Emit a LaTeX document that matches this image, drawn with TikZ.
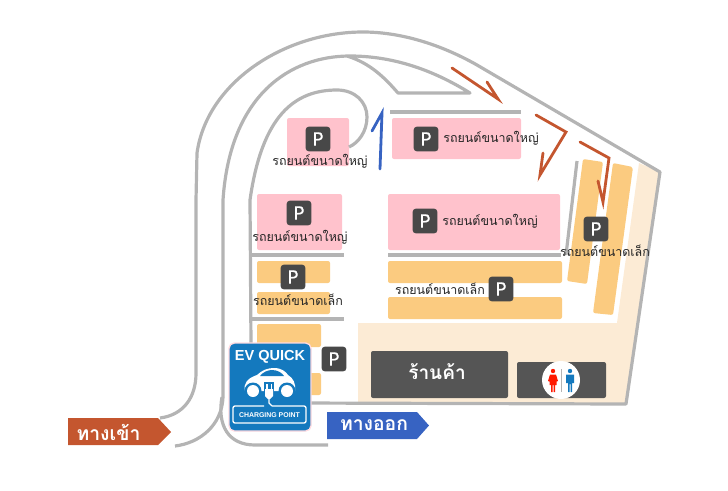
\documentclass[tikz,border=0pt]{standalone}
\usepackage{fontspec}
\setmainfont{Noto Sans}
\newfontfamily\pfont[FakeBold=0.5]{Noto Sans}
\newfontfamily\thaifont[Script=Thai]{Loma}
\newfontfamily\evfont{Liberation Sans}
\definecolor{roadgrey}{HTML}{B4B4B4}
\definecolor{pinkzone}{HTML}{FFC2CC}
\definecolor{orangezone}{HTML}{FBCB80}
\definecolor{creamzone}{HTML}{FCEBD5}
\definecolor{darkbox}{HTML}{484848}
\definecolor{shopbox}{HTML}{555555}
\definecolor{redarrow}{HTML}{C4562F}
\definecolor{bluearrow}{HTML}{3763C2}
\definecolor{evblue}{HTML}{1479BE}
\tikzset{
  road/.style={draw=roadgrey,line width=2.4pt,line join=round,fill=none},
  pinkbox/.style={fill=pinkzone,rounded corners=1.5pt,draw=none},
  orangebox/.style={fill=orangezone,rounded corners=1.5pt,draw=none},
  pbox/.style={fill=darkbox,rounded corners=2.5pt,minimum size=18.6pt,inner sep=0pt,text=white,font=\pfont\fontsize{14}{15}\selectfont},
  zonelabel/.style={font=\thaifont\fontsize{9.35}{11}\selectfont,text=black!85,inner sep=0pt},
  handarrow/.style={line width=2.1pt,line cap=round,line join=miter,fill=none},
  bannertext/.style={font=\thaifont\bfseries\fontsize{14.5}{16}\selectfont,text=white,inner sep=0pt},
}
\begin{document}
\begin{tikzpicture}[x=0.75pt,y=-0.75pt]
\useasboundingbox (0,0) rectangle (728,490);
% cream zone
\fill[creamzone] (639,163) -- (660,172) -- (626,404) -- (358,403) -- (358,323) -- (617,323) -- cycle;
% parking zones
\path[pinkbox] (287,118) rectangle (349,166);
\path[pinkbox] (392,118) rectangle (521,159);
\path[pinkbox] (388,194) rectangle (560,250);
\path[pinkbox] (257,194) rectangle (342,250);
\path[orangebox] (257,261) rectangle (330,283);
\path[orangebox] (257,292) rectangle (330,314);
\path[orangebox] (257,324) rectangle (321,347);
\path[orangebox] (257,373) rectangle (321,395);
\path[orangebox] (388,261) rectangle (562,283);
\path[orangebox] (388,297) rectangle (562,319);
\path[orangebox] (583,159) -- (603,162) -- (587,284) -- (567,281) -- cycle;
\path[orangebox] (613,163) -- (633,167) -- (613,315) -- (593,313) -- cycle;
% roads
\draw[road] (160,418) .. controls (183,415) and (196,398) .. (196,373) -- (196,200) -- (197,153)
  .. controls (207,82) and (285,32) .. (363,32) .. controls (400,32) and (440,44) .. (477,65)
  -- (660,172) -- (626,404) -- (300,403);
\draw[road] (223,397) -- (223,200) .. controls (230,95) and (290,56) .. (350,56)
  .. controls (390,56) and (430,68) .. (470,93) -- (398,93) .. controls (385,78) and (370,63) .. (347,56);
\draw[road] (223,397) .. controls (222,425) and (200,443) .. (175,446);
\draw[road] (222,397) .. controls (217,425) and (228,445) .. (255,445) -- (328,445);
\draw[road] (251,345) -- (250,200) .. controls (262,115) and (295,90) .. (337,90)
  .. controls (355,90) and (367,102) .. (367,117) .. controls (367,132) and (358,143) .. (349,147);
\draw[road] (390,112) -- (521,112);
\draw[road] (388,255) -- (561,255);
\draw[road] (251,255) -- (344,255);
\draw[road] (251,319) -- (344,319);
\draw[road] (577,161) -- (566,255);
% hand drawn arrows
\draw[handarrow,bluearrow] (380,169) -- (382,113) -- (372,131);
\draw[handarrow,redarrow] (452,68) -- (498,99) -- (487,82);
\draw[handarrow,redarrow] (536,115) -- (566,132) -- (540,175) -- (543,153);
\draw[handarrow,redarrow] (580,142) -- (609,158) -- (603,202) -- (598,181);
% P markers
\node[pbox] (p1) at (318,139) {P};
\node[pbox] (p2) at (426,139) {P};
\node[pbox] (p3) at (425,221) {P};
\node[pbox] (p4) at (596,229) {P};
\node[pbox] (p5) at (299,213) {P};
\node[pbox] (p6) at (293,277) {P};
\node[pbox] (p7) at (501,289) {P};
\node[pbox] (p8) at (334,359) {P};
% labels
\node[zonelabel] (l1) at (320,161) {รถยนต์ขนาดใหญ่};
\node[zonelabel] (l2) at (491,138) {รถยนต์ขนาดใหญ่};
\node[zonelabel] (l3) at (490,221) {รถยนต์ขนาดใหญ่};
\node[zonelabel] (l4) at (300,237) {รถยนต์ขนาดใหญ่};
\node[zonelabel] (l5) at (298,300) {รถยนต์ขนาดเล็ก};
\node[zonelabel] (l6) at (440,289) {รถยนต์ขนาดเล็ก};
\node[zonelabel] (l7) at (605,251) {รถยนต์ขนาดเล็ก};
% shop and restroom
\fill[shopbox,rounded corners=1.5pt] (371,351) rectangle (508,398);
\node[inner sep=0pt,text=white,font=\thaifont\bfseries\fontsize{14.3}{16}\selectfont] (shop) at (437,372) {ร้านค้า};
\node[fill=shopbox,rounded corners=1.5pt,minimum width=66.75pt,minimum height=27pt,inner sep=0pt] (rest) at (561.5,380) {};
\node[circle,fill=white,minimum size=28.5pt,inner sep=0pt] (wc) at (561,380) {};
\draw[roadgrey,line width=0.5pt] (561.5,369) -- (561.5,392);
% woman
\fill[red!80!orange] (553,371) circle (2.2);
\fill[red!80!orange] (550,374.5) -- (556,374.5) -- (558,381) -- (556.5,381.5) -- (556.5,385) -- (555,385) -- (555,392) -- (553.5,392) -- (553.5,385) -- (552.5,385) -- (552.5,392) -- (551,392) -- (551,385) -- (549.5,385) -- (549.5,381.5) -- (548,381) -- cycle;
% man
\fill[evblue] (570,371) circle (2.2);
\fill[evblue] (566,374.5) -- (574,374.5) -- (574,383) -- (572,383) -- (572,392) -- (570.5,392) -- (570.5,384) -- (569.5,384) -- (569.5,392) -- (568,392) -- (568,383) -- (566,383) -- cycle;
% entry and exit banners
\path[fill=redarrow] (68,418) -- (158,418) -- (171,432) -- (158,445) -- (68,445) -- cycle;
\node[bannertext] (in) at (108.5,432) {ทางเข้า};
\path[fill=bluearrow] (327,412) -- (417,412) -- (429,425.5) -- (417,439) -- (327,439) -- cycle;
\node[bannertext] (out) at (374,425.5) {ทางออก};
% EV sign
\path[fill=evblue,draw=pinkzone!60!white,line width=1pt,rounded corners=4pt] (229,343) rectangle (311,431);
\node[inner sep=0pt,text=white,font=\evfont\bfseries\fontsize{10.9}{12}\selectfont] (evq) at (270,356.5) {EV QUICK};
\fill[white] (245,391) .. controls (243,383) and (248,378) .. (257,375) .. controls (262,370) and (268,368) .. (274,368) .. controls (282,368) and (286,372) .. (288,375) .. controls (293,378) and (296,383) .. (295,391) -- cycle;
\fill[evblue] (260,376) .. controls (263,372) and (268,370) .. (272,370) .. controls (278,370) and (282,373) .. (284,376) -- cycle;
\fill[evblue] (253,391) circle (8.5);
\fill[evblue] (287,391) circle (8.5);
\fill[white] (253,391) circle (6);
\fill[white] (287,391) circle (6);
\fill[evblue] (264,382) rectangle (274,400);
\fill[white] (266,384) rectangle (267.5,390);
\fill[white] (270.5,384) rectangle (272,390);
\fill[white] (265,389) -- (273,389) -- (273,396) -- (270,399) -- (268,399) -- (265,396) -- cycle;
\draw[white,line width=1pt] (269,398) -- (269,403) -- (272,406);
\draw[white,line width=1pt,rounded corners=1.5pt] (264,406) -- (233,406) -- (233,423) -- (306,423) -- (306,406) -- (272,406);
\node[inner sep=0pt,text=white,font=\evfont\bfseries\fontsize{5.2}{6}\selectfont] (evc) at (269.5,415) {CHARGING POINT};
\end{tikzpicture}
\end{document}
